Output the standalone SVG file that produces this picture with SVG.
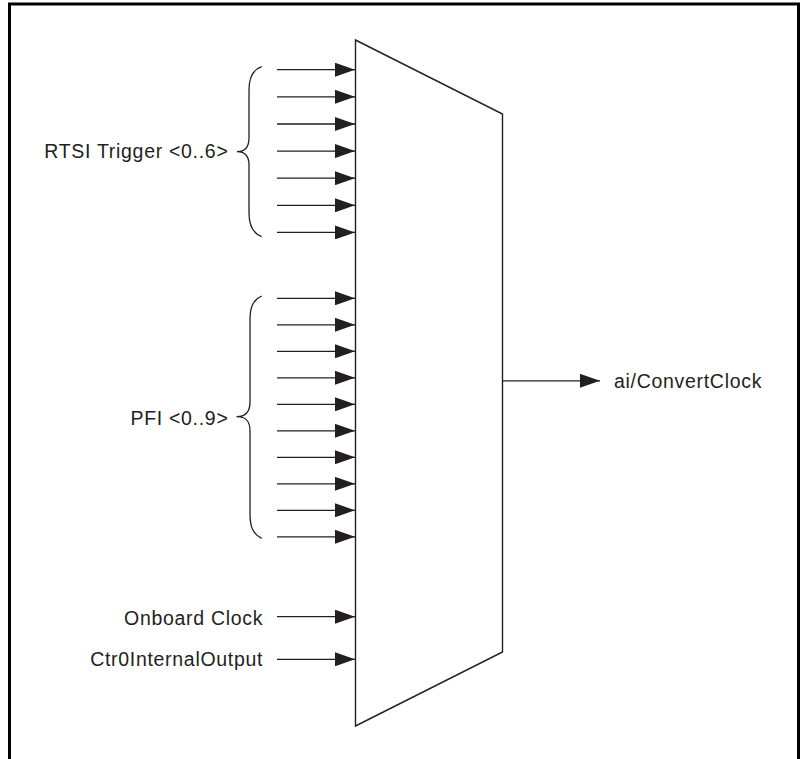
<svg xmlns="http://www.w3.org/2000/svg" width="800" height="759" viewBox="0 0 800 759">
<style>
.lbl{font-family:"Liberation Sans",Arial,Helvetica,sans-serif;font-size:19.5px;letter-spacing:0.7px;fill:#231f20}
.w{stroke:#231f20;stroke-width:1.3;fill:none}
.br{stroke:#231f20;stroke-width:1.3;fill:none}
</style>
<defs>
<marker id="ah" markerUnits="userSpaceOnUse" viewBox="0 0 20 14" refX="20" refY="7" markerWidth="20" markerHeight="14" orient="auto">
<path d="M0,0 L20,7 L0,14 Z" fill="#231f20"/>
</marker>
</defs>
<rect width="800" height="759" fill="#fff"/>
<path d="M9.5,760 L9.5,4 L798.5,4 L798.5,760" fill="none" stroke="#000" stroke-width="3"/>
<g id="mux">
<polygon points="355.5,40 502.5,114 502.5,652 355.5,726" fill="#fff" stroke="#231f20" stroke-width="1.4"/>
</g>
<g id="rtsi">
<path class="br" d="M261.7,66.7 C252,70 249,78 249,90 L249,138 C249,147 245,151.7 237,151.7 C245,151.7 249,156 249,165 L249,213 C249,225 252,233 261.7,236.7"/>
<text class="lbl" x="228.5" y="158.3" text-anchor="end">RTSI Trigger &lt;0..6&gt;</text>
</g>
<g id="pfi">
<path class="br" d="M261.7,296 C252.5,300 250,308 250,320 L250,402 C250,412 246,416.7 236.5,416.7 C246,416.7 250,421 250,431 L250,514 C250,526 252.5,534 261.7,538.3"/>
<text class="lbl" x="228.5" y="424.5" text-anchor="end">PFI &lt;0..9&gt;</text>
</g>
<g id="onboard">
<text class="lbl" x="263.2" y="625" text-anchor="end">Onboard Clock</text>
</g>
<g id="ctr0">
<text class="lbl" x="263.2" y="666" text-anchor="end">Ctr0InternalOutput</text>
</g>
<g id="out">
<text class="lbl" x="614" y="387.7">ai/ConvertClock</text>
</g>
<g id="connectors" class="w" marker-end="url(#ah)">
<line x1="277" y1="69.7" x2="355" y2="69.7"/>
<line x1="277" y1="96.8" x2="355" y2="96.8"/>
<line x1="277" y1="124" x2="355" y2="124"/>
<line x1="277" y1="151.1" x2="355" y2="151.1"/>
<line x1="277" y1="178.2" x2="355" y2="178.2"/>
<line x1="277" y1="205.3" x2="355" y2="205.3"/>
<line x1="277" y1="232.4" x2="355" y2="232.4"/>
<line x1="277" y1="298.3" x2="355" y2="298.3"/>
<line x1="277" y1="324.8" x2="355" y2="324.8"/>
<line x1="277" y1="351.3" x2="355" y2="351.3"/>
<line x1="277" y1="377.8" x2="355" y2="377.8"/>
<line x1="277" y1="404.3" x2="355" y2="404.3"/>
<line x1="277" y1="430.8" x2="355" y2="430.8"/>
<line x1="277" y1="457.3" x2="355" y2="457.3"/>
<line x1="277" y1="483.8" x2="355" y2="483.8"/>
<line x1="277" y1="510.3" x2="355" y2="510.3"/>
<line x1="277" y1="536.8" x2="355" y2="536.8"/>
<line x1="277" y1="616.7" x2="355" y2="616.7"/>
<line x1="277" y1="659.3" x2="355" y2="659.3"/>
<line x1="502.5" y1="380.8" x2="600" y2="380.8"/>
</g>
</svg>
